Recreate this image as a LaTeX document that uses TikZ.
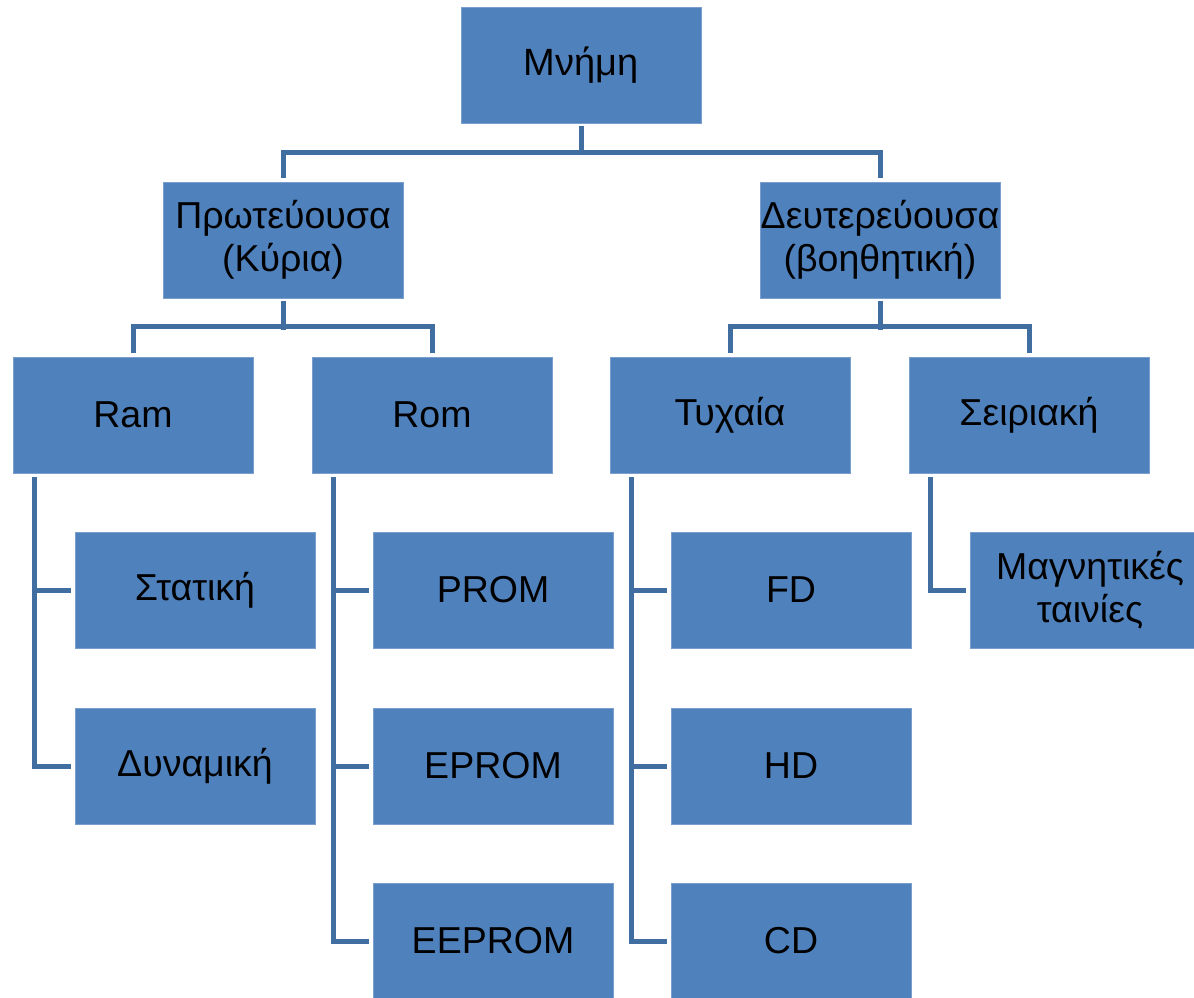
\documentclass[tikz,border=0pt]{standalone}
\usepackage{fontspec}
\setmainfont{Liberation Sans}
\usetikzlibrary{calc}
\definecolor{boxfill}{HTML}{4F81BD}
\definecolor{boxedge}{HTML}{7A9FCF}
\definecolor{linkcol}{HTML}{406EA0}
\begin{document}
\begin{tikzpicture}[x=1pt,y=-1pt,
  box/.style={rectangle,fill=boxfill,draw=boxedge,line width=1pt,minimum width=240pt,minimum height=116pt,inner sep=0pt,align=center,font=\fontsize{37.5}{43}\selectfont},
  link/.style={draw=linkcol,line width=5pt,line join=miter,line cap=rect}]
\useasboundingbox (0,0) rectangle (1194,997);
\begin{scope}
\clip (0,0) rectangle (1194,997);
\node[box,font=\fontsize{38}{46}\selectfont] (m) at (581,65) {Μνήμη};
\node[box] (p) at (283,240) {Πρωτεύουσα\\(Κύρια)};
\node[box] (d) at (880,240) {Δευτερεύουσα\\(βοηθητική)};
\node[box] (ram) at (133,415) {Ram};
\node[box] (rom) at (432,415) {Rom};
\node[box] (tyx) at (730,415) {Τυχαία};
\node[box] (ser) at (1029,415) {Σειριακή};
\node[box] (stat) at (195,590) {Στατική};
\node[box] (dyn) at (195,766) {Δυναμική};
\node[box] (prom) at (493,590) {PROM};
\node[box] (eprom) at (493,766) {EPROM};
\node[box] (eeprom) at (493,941) {EEPROM};
\node[box] (fd) at (791,590) {FD};
\node[box] (hd) at (791,766) {HD};
\node[box] (cd) at (791,941) {CD};
\node[box] (mag) at (1090,590) {Μαγνητικές\\ταινίες};
\coordinate (ramx) at ($(ram.south west)+(22,6)$);
\coordinate (romx) at ($(rom.south west)+(22,6)$);
\coordinate (tyxx) at ($(tyx.south west)+(22,6)$);
\coordinate (serx) at ($(ser.south west)+(22,6)$);
% level 1
\draw[link] ($(m.south)+(0,5)$) -- ($(m.south)+(0,29)$);
\draw[link] ($(p.north)+(0,-6)$) -- ($(p.north)+(0,-29)$) -| ($(d.north)+(0,-6)$);
% level 2
\draw[link] ($(p.south)+(0,5)$) -- ($(p.south)+(0,29)$);
\draw[link] ($(ram.north)+(0,-6)$) -- ($(ram.north)+(0,-30)$) -| ($(rom.north)+(0,-6)$);
\draw[link] ($(d.south)+(0,5)$) -- ($(d.south)+(0,29)$);
\draw[link] ($(tyx.north)+(0,-6)$) -- ($(tyx.north)+(0,-30)$) -| ($(ser.north)+(0,-6)$);
% level 3
\draw[link] (ramx) |- ($(dyn.west)+(-6,0)$);
\draw[link] (ramx |- stat.west) -- ($(stat.west)+(-6,0)$);
\draw[link] (romx) |- ($(eeprom.west)+(-6,0)$);
\draw[link] (romx |- prom.west) -- ($(prom.west)+(-6,0)$);
\draw[link] (romx |- eprom.west) -- ($(eprom.west)+(-6,0)$);
\draw[link] (tyxx) |- ($(cd.west)+(-6,0)$);
\draw[link] (tyxx |- fd.west) -- ($(fd.west)+(-6,0)$);
\draw[link] (tyxx |- hd.west) -- ($(hd.west)+(-6,0)$);
\draw[link] (serx) |- ($(mag.west)+(-6,0)$);
\end{scope}
\end{tikzpicture}
\end{document}
